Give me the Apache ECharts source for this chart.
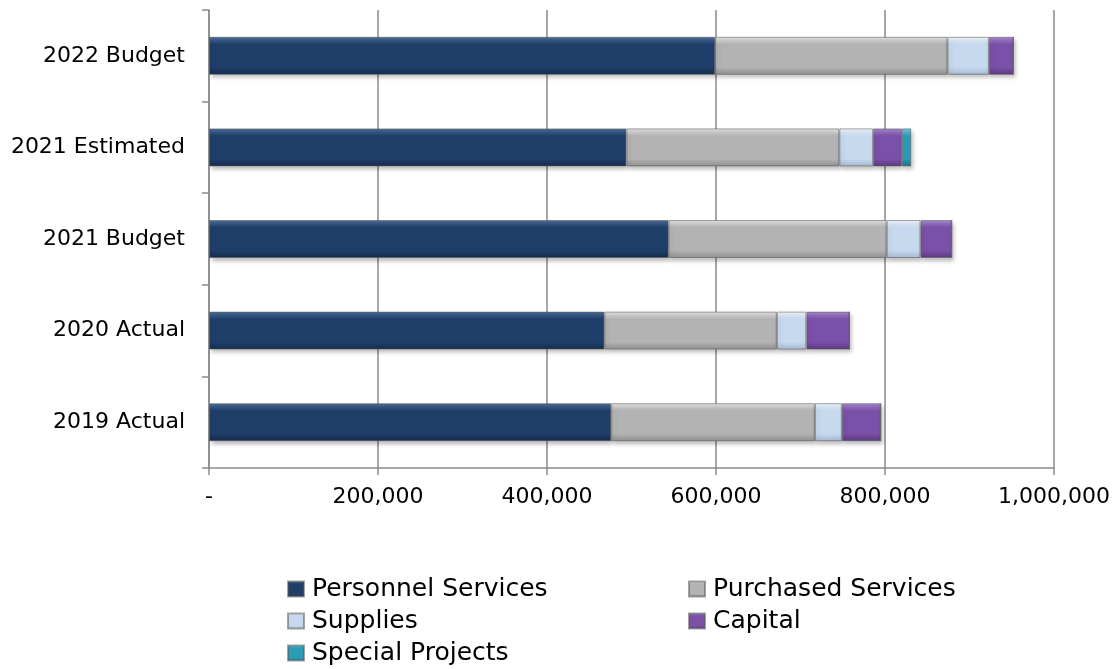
<!DOCTYPE html>
<html>
<head>
    <meta charset="UTF-8">
    <title>Expenditures by Category</title>
    <script src="https://cdn.jsdelivr.net/npm/echarts@6/dist/echarts.min.js"></script>
</head>
<body style="margin:0;background:#fff;">
<div id="main" style="width:1117px;height:669px;"></div>
<script>
    // categories, bottom to top as drawn
    var categories = ['2019 Actual', '2020 Actual', '2021 Budget', '2021 Estimated', '2022 Budget'];

    var personnel = [476000, 468000, 544000, 494000, 599000];
    var purchased = [241000, 204000, 258000, 252000, 275000];
    var supplies = [32000, 35000, 40000, 40000, 49000];
    var capital = [46000, 51000, 37000, 34000, 29000];
    var special = [0, 0, 0, 11000, 0];

    var xTickLabels = ['-', '200,000', '400,000', '600,000', '800,000', '1,000,000'];

    var font = 'DejaVu Sans';

    function bevel(light, main, dark) {
        return new echarts.graphic.LinearGradient(0, 0, 0, 1, [
            {offset: 0, color: light},
            {offset: 0.2, color: main},
            {offset: 0.8, color: main},
            {offset: 1, color: dark}
        ]);
    }

    function makeSeries(name, data, light, main, dark) {
        return {
            name: name,
            type: 'bar',
            stack: 'total',
            barWidth: 38,
            data: data,
            itemStyle: {
                color: bevel(light, main, dark),
                borderColor: 'rgba(90,90,90,0.55)',
                borderWidth: 1,
                shadowColor: 'rgba(0,0,0,0.25)',
                shadowBlur: 4,
                shadowOffsetX: 2,
                shadowOffsetY: 3
            }
        };
    }

    var myChart = echarts.init(document.getElementById('main'));

    var legendText = {fontFamily: font, fontSize: 25, color: '#000', lineHeight: 26, padding: [0, 0, 0, 3]};

    var option = {
        animation: false,
        grid: {left: 209, right: 63, top: 10, bottom: 201},
        legend: [
            {
                orient: 'vertical',
                left: 287, top: 576, padding: 0,
                itemWidth: 16, itemHeight: 15, itemGap: 6,
                icon: 'rect',
                textStyle: legendText,
                data: ['Personnel Services', 'Supplies', 'Special Projects']
            },
            {
                orient: 'vertical',
                left: 688, top: 576, padding: 0,
                itemWidth: 16, itemHeight: 15, itemGap: 6,
                icon: 'rect',
                textStyle: legendText,
                data: ['Purchased Services', 'Capital']
            }
        ],
        xAxis: {
            type: 'value',
            min: 0,
            max: 1000000,
            interval: 200000,
            axisLine: {show: true, lineStyle: {color: '#8a8a8a', width: 1.5}},
            axisTick: {show: true, length: 7, lineStyle: {color: '#8a8a8a', width: 1.5}},
            axisLabel: {
                margin: 18,
                fontFamily: font,
                fontSize: 22,
                color: '#000',
                formatter: function (v) {
                    return xTickLabels[Math.round(v / 200000)];
                }
            },
            splitLine: {show: true, lineStyle: {color: '#8a8a8a', width: 1.5}}
        },
        yAxis: {
            type: 'category',
            data: categories,
            axisLine: {show: true, lineStyle: {color: '#8a8a8a', width: 1.5}},
            axisTick: {show: true, length: 7, lineStyle: {color: '#8a8a8a', width: 1.5}},
            axisLabel: {
                margin: 24,
                fontFamily: font,
                fontSize: 22,
                color: '#000'
            }
        },
        series: [
            makeSeries('Personnel Services', personnel, '#4d6f9c', '#1f3e69', '#152c4c'),
            makeSeries('Purchased Services', purchased, '#e4e4e4', '#b3b3b3', '#8f8f8f'),
            makeSeries('Supplies', supplies, '#f1f6fc', '#c6d9ee', '#a3b7cf'),
            makeSeries('Capital', capital, '#a88ad2', '#7b50a8', '#5a3a80'),
            makeSeries('Special Projects', special, '#6fd0e4', '#2b9cb6', '#1d7287')
        ]
    };

    myChart.setOption(option);
</script>
</body>
</html>
